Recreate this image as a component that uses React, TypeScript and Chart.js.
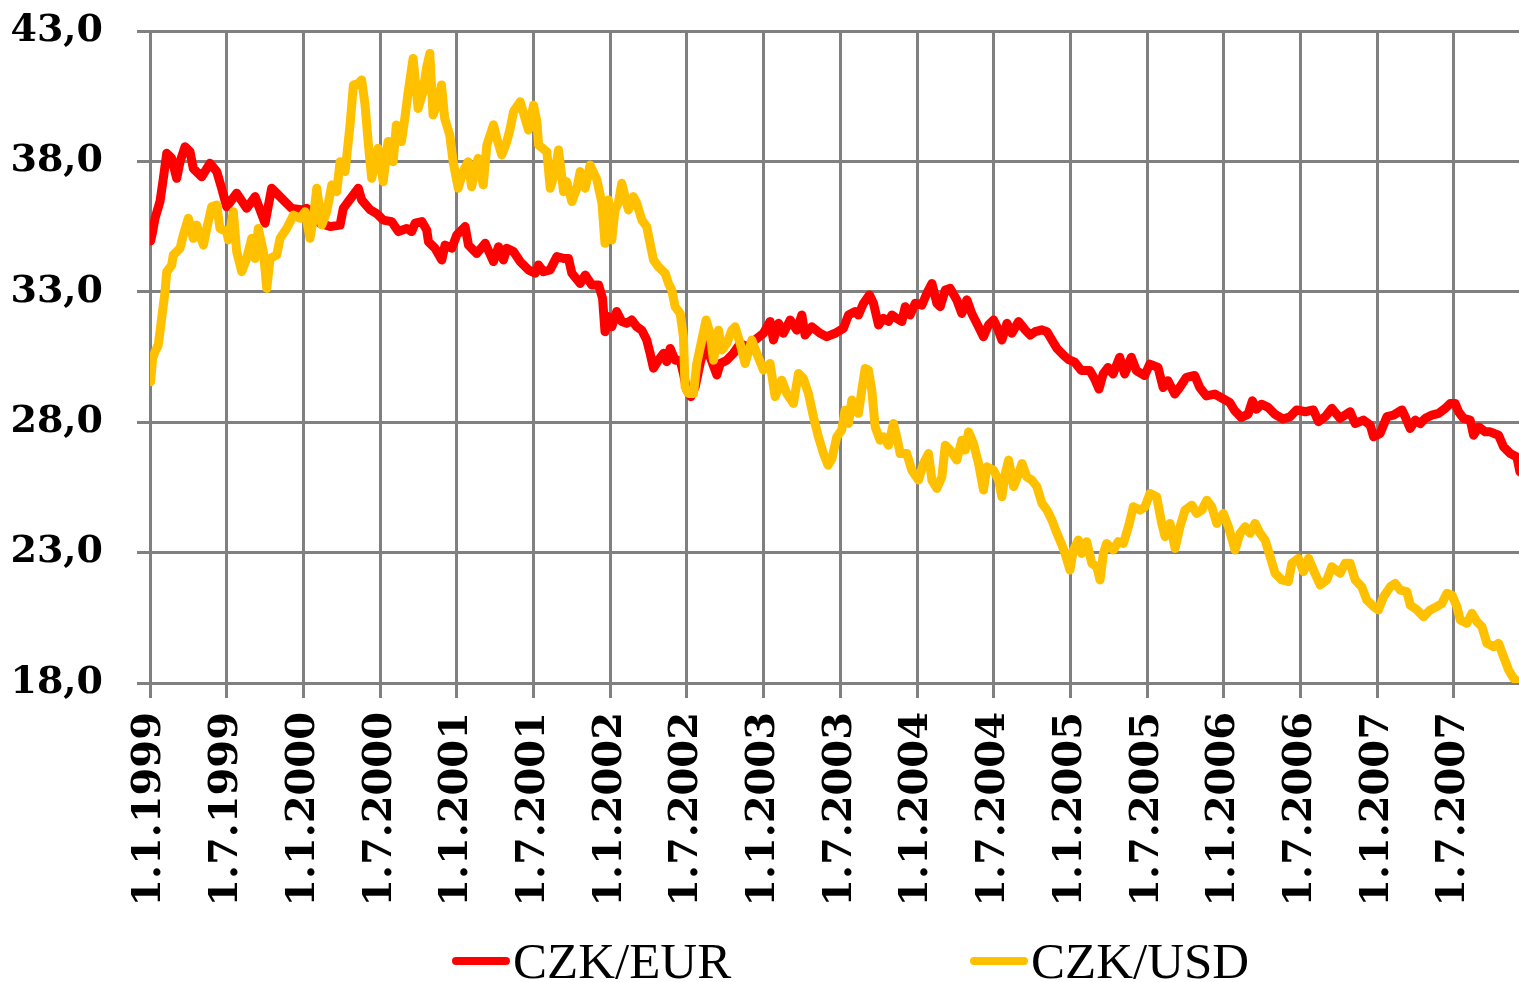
import React, { useEffect, useRef } from "react";
import { Chart, registerables } from "chart.js";

Chart.register(...registerables);

// ---- data ----
const tickLabels = [
  "1.1.1999", "1.7.1999", "1.1.2000", "1.7.2000", "1.1.2001", "1.7.2001",
  "1.1.2002", "1.7.2002", "1.1.2003", "1.7.2003", "1.1.2004", "1.7.2004",
  "1.1.2005", "1.7.2005", "1.1.2006", "1.7.2006", "1.1.2007", "1.7.2007",
];
const yMin = 18;
const yMax = 43;
const yStep = 5;
const xStart = 1999;
const xEnd = 2007.924;

const seriesNames = ["CZK/EUR", "CZK/USD"];

const eurTime = [
  1999.004, 1999.017, 1999.033, 1999.065, 1999.087, 1999.109, 1999.141, 1999.174, 1999.196, 1999.228,
  1999.261, 1999.282, 1999.337, 1999.391, 1999.435, 1999.467, 1999.5, 1999.565, 1999.63, 1999.685,
  1999.75, 1999.793, 1999.869, 1999.924, 2000.0, 2000.021, 2000.108, 2000.174, 2000.239, 2000.26,
  2000.293, 2000.358, 2000.38, 2000.434, 2000.478, 2000.521, 2000.576, 2000.619, 2000.673, 2000.706,
  2000.728, 2000.772, 2000.804, 2000.815, 2000.858, 2000.902, 2000.923, 2000.967, 2001.0, 2001.054,
  2001.076, 2001.13, 2001.185, 2001.239, 2001.272, 2001.304, 2001.326, 2001.37, 2001.413, 2001.467,
  2001.511, 2001.532, 2001.565, 2001.608, 2001.652, 2001.695, 2001.728, 2001.75, 2001.804, 2001.837,
  2001.88, 2001.924, 2001.95, 2001.966, 2001.988, 2002.01, 2002.042, 2002.075, 2002.108, 2002.14,
  2002.173, 2002.206, 2002.238, 2002.26, 2002.282, 2002.314, 2002.347, 2002.369, 2002.391, 2002.423,
  2002.456, 2002.477, 2002.499, 2002.525, 2002.554, 2002.586, 2002.619, 2002.651, 2002.695, 2002.717,
  2002.76, 2002.803, 2002.847, 2002.89, 2002.944, 2002.999, 2003.042, 2003.064, 2003.097, 2003.129,
  2003.173, 2003.216, 2003.249, 2003.27, 2003.314, 2003.368, 2003.412, 2003.466, 2003.52, 2003.553,
  2003.596, 2003.618, 2003.651, 2003.69, 2003.716, 2003.749, 2003.781, 2003.814, 2003.836, 2003.868,
  2003.901, 2003.923, 2003.955, 2003.988, 2004.032, 2004.064, 2004.097, 2004.129, 2004.151, 2004.184,
  2004.216, 2004.259, 2004.292, 2004.325, 2004.357, 2004.401, 2004.433, 2004.466, 2004.499, 2004.521,
  2004.553, 2004.586, 2004.618, 2004.662, 2004.705, 2004.738, 2004.77, 2004.814, 2004.847, 2004.879,
  2004.912, 2004.955, 2004.988, 2005.028, 2005.071, 2005.126, 2005.158, 2005.186, 2005.213, 2005.245,
  2005.278, 2005.321, 2005.354, 2005.397, 2005.43, 2005.484, 2005.517, 2005.571, 2005.604, 2005.636,
  2005.68, 2005.712, 2005.756, 2005.81, 2005.843, 2005.886, 2005.94, 2005.995, 2006.038, 2006.071,
  2006.114, 2006.158, 2006.186, 2006.212, 2006.245, 2006.289, 2006.332, 2006.386, 2006.432, 2006.475,
  2006.53, 2006.584, 2006.617, 2006.661, 2006.704, 2006.758, 2006.823, 2006.856, 2006.91, 2006.954,
  2006.976, 2007.019, 2007.063, 2007.106, 2007.161, 2007.182, 2007.215, 2007.248, 2007.28, 2007.313,
  2007.356, 2007.4, 2007.443, 2007.476, 2007.508, 2007.53, 2007.562, 2007.606, 2007.628, 2007.661,
  2007.704, 2007.736, 2007.791, 2007.823, 2007.867, 2007.91, 2007.93,
];
const eurRate = [
  34.95, 35.3, 35.82, 36.46, 37.35, 38.31, 38.12, 37.35, 37.99, 38.56,
  38.37, 37.73, 37.41, 37.93, 37.61, 36.97, 36.26, 36.78, 36.2, 36.65,
  35.63, 36.97, 36.52, 36.2, 36.14, 36.2, 35.63, 35.5, 35.56, 36.2,
  36.46, 36.97, 36.52, 36.15, 36.0, 35.75, 35.69, 35.31, 35.43, 35.31,
  35.63, 35.69, 35.37, 34.92, 34.67, 34.22, 34.79, 34.67, 35.18, 35.5,
  34.79, 34.47, 34.86, 34.16, 34.73, 34.22, 34.67, 34.54, 34.16, 33.84,
  33.71, 34.03, 33.77, 33.84, 34.35, 34.28, 34.28, 33.71, 33.32, 33.64,
  33.26, 33.26, 32.75, 31.47, 32.05, 31.66, 32.24, 31.86, 31.79, 31.92,
  31.66, 31.53, 31.15, 30.64, 30.07, 30.38, 30.64, 30.32, 30.83, 30.38,
  30.38, 29.87, 29.23, 28.98, 29.36, 30.25, 31.02, 30.51, 29.81, 30.25,
  30.38, 30.64, 31.02, 30.89, 31.15, 31.41, 31.86, 31.15, 31.79, 31.41,
  31.92, 31.53, 32.11, 31.34, 31.66, 31.41, 31.28, 31.41, 31.6, 32.11,
  32.24, 32.11, 32.56, 32.88, 32.56, 31.73, 31.98, 31.86, 32.11, 31.98,
  31.86, 32.43, 32.11, 32.56, 32.49, 32.94, 33.32, 32.56, 32.43, 33.07,
  33.13, 32.69, 32.17, 32.69, 32.17, 31.66, 31.28, 31.73, 31.92, 31.66,
  31.15, 31.79, 31.41, 31.86, 31.54, 31.34, 31.47, 31.54, 31.47, 31.15,
  30.83, 30.57, 30.4, 30.3, 29.98, 29.98, 29.66, 29.27, 29.85, 30.1,
  29.85, 30.49, 29.85, 30.49, 29.98, 29.79, 30.23, 30.1, 29.33, 29.59,
  29.08, 29.33, 29.72, 29.79, 29.33, 29.01, 29.08, 28.9, 28.76, 28.44,
  28.18, 28.31, 28.82, 28.5, 28.69, 28.57, 28.31, 28.12, 28.21, 28.47,
  28.4, 28.47, 28.02, 28.21, 28.53, 28.15, 28.4, 27.95, 28.08, 27.89,
  27.44, 27.57, 28.21, 28.27, 28.47, 28.21, 27.76, 28.08, 27.95, 28.15,
  28.27, 28.34, 28.53, 28.72, 28.72, 28.4, 28.15, 28.08, 27.5, 27.82,
  27.63, 27.63, 27.5, 27.06, 26.8, 26.67, 26.1,
];

const usdTime = [
  1999.004, 1999.017, 1999.033, 1999.054, 1999.076, 1999.098, 1999.109, 1999.141, 1999.152, 1999.196,
  1999.217, 1999.25, 1999.282, 1999.304, 1999.348, 1999.37, 1999.402, 1999.435, 1999.456, 1999.5,
  1999.511, 1999.543, 1999.565, 1999.598, 1999.63, 1999.663, 1999.685, 1999.706, 1999.739, 1999.761,
  1999.783, 1999.826, 1999.848, 1999.891, 1999.935, 1999.978, 2000.011, 2000.043, 2000.065, 2000.087,
  2000.12, 2000.152, 2000.185, 2000.217, 2000.239, 2000.272, 2000.304, 2000.326, 2000.358, 2000.38,
  2000.402, 2000.424, 2000.445, 2000.487, 2000.52, 2000.552, 2000.585, 2000.606, 2000.639, 2000.661,
  2000.683, 2000.715, 2000.748, 2000.78, 2000.802, 2000.824, 2000.845, 2000.878, 2000.9, 2000.921,
  2000.954, 2000.976, 2001.009, 2001.041, 2001.074, 2001.096, 2001.139, 2001.172, 2001.196, 2001.239,
  2001.261, 2001.293, 2001.326, 2001.348, 2001.37, 2001.413, 2001.445, 2001.467, 2001.5, 2001.522,
  2001.533, 2001.587, 2001.609, 2001.641, 2001.663, 2001.696, 2001.717, 2001.75, 2001.783, 2001.804,
  2001.837, 2001.869, 2001.913, 2001.946, 2001.966, 2001.988, 2002.01, 2002.031, 2002.053, 2002.075,
  2002.097, 2002.119, 2002.151, 2002.173, 2002.206, 2002.238, 2002.26, 2002.282, 2002.314, 2002.358,
  2002.38, 2002.401, 2002.423, 2002.456, 2002.477, 2002.488, 2002.51, 2002.543, 2002.564, 2002.597,
  2002.625, 2002.651, 2002.673, 2002.706, 2002.727, 2002.76, 2002.793, 2002.814, 2002.847, 2002.879,
  2002.923, 2002.955, 2002.999, 2003.042, 2003.075, 2003.118, 2003.151, 2003.194, 2003.227, 2003.259,
  2003.292, 2003.325, 2003.357, 2003.39, 2003.42, 2003.445, 2003.477, 2003.509, 2003.531, 2003.553,
  2003.575, 2003.596, 2003.618, 2003.64, 2003.662, 2003.683, 2003.705, 2003.727, 2003.759, 2003.781,
  2003.814, 2003.846, 2003.868, 2003.89, 2003.933, 2003.966, 2004.01, 2004.042, 2004.075, 2004.097,
  2004.129, 2004.162, 2004.184, 2004.216, 2004.259, 2004.292, 2004.314, 2004.336, 2004.368, 2004.401,
  2004.433, 2004.455, 2004.499, 2004.532, 2004.553, 2004.575, 2004.597, 2004.63, 2004.662, 2004.684,
  2004.716, 2004.749, 2004.781, 2004.814, 2004.847, 2004.879, 2004.912, 2004.94, 2004.965, 2004.997,
  2005.019, 2005.052, 2005.073, 2005.106, 2005.139, 2005.171, 2005.193, 2005.215, 2005.236, 2005.28,
  2005.312, 2005.345, 2005.378, 2005.41, 2005.454, 2005.486, 2005.519, 2005.562, 2005.595, 2005.617,
  2005.649, 2005.682, 2005.714, 2005.747, 2005.791, 2005.823, 2005.856, 2005.889, 2005.921, 2005.954,
  2005.997, 2006.03, 2006.073, 2006.106, 2006.139, 2006.171, 2006.204, 2006.236, 2006.269, 2006.302,
  2006.334, 2006.378, 2006.421, 2006.443, 2006.486, 2006.519, 2006.552, 2006.584, 2006.628, 2006.671,
  2006.704, 2006.758, 2006.791, 2006.823, 2006.856, 2006.899, 2006.932, 2006.976, 2007.008, 2007.041,
  2007.085, 2007.117, 2007.15, 2007.193, 2007.215, 2007.259, 2007.302, 2007.345, 2007.389, 2007.421,
  2007.454, 2007.487, 2007.519, 2007.541, 2007.584, 2007.617, 2007.65, 2007.682, 2007.715, 2007.758,
  2007.791, 2007.823, 2007.856, 2007.889, 2007.93,
];
const usdRate = [
  29.55, 30.45, 30.7, 30.96, 31.98, 33.0, 33.77, 34.02, 34.41, 34.67,
  35.18, 35.82, 35.05, 35.56, 34.79, 35.43, 36.26, 36.33, 35.43, 35.3,
  34.99, 36.07, 34.54, 33.77, 34.28, 35.05, 34.28, 35.43, 34.54, 33.13,
  34.28, 34.41, 35.05, 35.43, 35.94, 35.82, 36.07, 35.05, 35.82, 36.97,
  35.56, 36.07, 37.1, 36.84, 37.99, 37.61, 39.4, 40.93, 40.99, 41.12,
  40.16, 38.63, 37.35, 38.5, 37.22, 38.76, 37.99, 39.4, 38.76, 39.65,
  40.67, 41.95, 40.03, 40.67, 41.57, 42.14, 39.78, 40.29, 40.93, 39.65,
  39.01, 37.99, 36.97, 37.61, 37.99, 37.03, 38.12, 37.1, 38.63, 39.4,
  38.88, 38.25, 38.76, 39.27, 39.91, 40.29, 39.65, 39.2, 40.16, 39.52,
  38.63, 38.37, 36.97, 37.61, 38.44, 36.84, 37.22, 36.46, 36.97, 37.61,
  36.97, 37.86, 37.3, 36.4, 34.86, 36.52, 34.99, 36.14, 36.4, 37.16,
  36.65, 36.14, 36.65, 36.4, 35.75, 35.5, 34.86, 34.22, 33.96, 33.71,
  33.32, 33.07, 32.43, 32.17, 31.28, 29.36, 29.1, 29.1, 30.25, 31.15,
  31.92, 31.41, 30.38, 31.53, 30.77, 31.02, 31.53, 31.66, 31.02, 30.25,
  31.15, 30.64, 30.0, 30.25, 28.98, 29.61, 29.1, 28.72, 29.87, 29.68,
  29.1, 28.2, 27.44, 26.8, 26.35, 26.6, 27.44, 27.7, 28.46, 27.95,
  28.85, 28.46, 28.34, 29.23, 30.06, 30.0, 29.23, 27.82, 27.31, 27.44,
  27.12, 27.95, 27.44, 26.8, 26.8, 26.16, 25.78, 26.42, 26.8, 25.78,
  25.46, 25.9, 27.12, 26.93, 26.55, 27.31, 26.93, 27.63, 27.18, 26.42,
  25.4, 26.29, 26.16, 25.78, 25.14, 26.03, 26.55, 25.53, 26.03, 26.42,
  25.9, 25.78, 25.53, 24.89, 24.63, 24.25, 23.74, 23.35, 22.97, 22.33,
  23.1, 23.48, 22.97, 23.42, 22.59, 22.46, 21.95, 22.97, 23.35, 23.1,
  23.42, 23.35, 23.99, 24.76, 24.63, 24.76, 25.27, 25.14, 24.12, 23.61,
  24.12, 23.16, 23.99, 24.63, 24.82, 24.5, 24.63, 25.01, 24.76, 24.12,
  24.5, 23.99, 23.1, 23.74, 23.99, 23.74, 24.12, 23.74, 23.48, 22.84,
  22.21, 21.95, 21.89, 22.59, 22.78, 22.27, 22.78, 22.33, 21.76, 21.95,
  22.46, 22.21, 22.59, 22.59, 21.95, 21.69, 21.18, 20.93, 20.8, 21.31,
  21.69, 21.82, 21.56, 21.5, 20.99, 20.8, 20.54, 20.8, 20.93, 21.05,
  21.44, 21.37, 20.93, 20.42, 20.29, 20.67, 20.35, 20.16, 19.52, 19.39,
  19.52, 19.01, 18.5, 18.18, 17.99,
];

// ---- styles ----
const EUR_COLOR = "#FF0000";
const USD_COLOR = "#FFC000";
const GRID_COLOR = "#808080";
const W = 1519;
const H = 920;
const PLOT_LEFT = 150;
const PLOT_TOP = 31;
const PLOT_BOTTOM = 683;

function labelToValue(label: string): number {
  const [, m, y] = label.split(".").map(Number);
  return y + (m - 1) / 12;
}

export default function App() {
  const canvasRef = useRef<HTMLCanvasElement | null>(null);

  useEffect(() => {
    if (!canvasRef.current) return;
    const toPoints = (t: number[], v: number[]) => t.map((x, i) => ({ x, y: v[i] }));
    const chart = new Chart(canvasRef.current, {
      type: "line",
      data: {
        datasets: [
          {
            label: seriesNames[0],
            data: toPoints(eurTime, eurRate),
            borderColor: EUR_COLOR,
            backgroundColor: EUR_COLOR,
            borderWidth: 9,
            pointRadius: 0,
            tension: 0,
            borderJoinStyle: "round",
            borderCapStyle: "round",
            order: 1,
          },
          {
            label: seriesNames[1],
            data: toPoints(usdTime, usdRate),
            borderColor: USD_COLOR,
            backgroundColor: USD_COLOR,
            borderWidth: 9,
            pointRadius: 0,
            tension: 0,
            borderJoinStyle: "round",
            borderCapStyle: "round",
            order: 0,
          },
        ],
      },
      options: {
        animation: false,
        responsive: false,
        devicePixelRatio: 1,
        layout: { padding: { top: PLOT_TOP, left: 0, right: 0, bottom: 0 } },
        plugins: {
          legend: { display: false },
          tooltip: { enabled: false },
        },
        scales: {
          x: {
            type: "linear",
            min: xStart,
            max: xEnd,
            afterBuildTicks: (scale: any) => {
              scale.ticks = tickLabels.map((l) => ({ value: labelToValue(l) }));
            },
            afterFit: (scale: any) => {
              scale.height = H - PLOT_BOTTOM;
              scale.paddingLeft = 0;
              scale.paddingRight = 0;
            },
            ticks: {
              autoSkip: false,
              minRotation: 90,
              maxRotation: 90,
              padding: 14,
              color: "#000",
              font: { family: "'DejaVu Serif', serif", size: 40, weight: "bold" },
              callback: (_v: any, i: number) => tickLabels[i],
            },
            grid: {
              color: GRID_COLOR,
              lineWidth: 3,
              tickLength: 15,
              drawTicks: true,
            },
            border: { display: true, color: GRID_COLOR, width: 3 },
          },
          y: {
            type: "linear",
            min: yMin,
            max: yMax,
            afterFit: (scale: any) => {
              scale.width = PLOT_LEFT;
              scale.paddingTop = 0;
              scale.paddingBottom = 0;
            },
            ticks: {
              stepSize: yStep,
              padding: 34,
              color: "#000",
              font: { family: "'DejaVu Serif', serif", size: 38, weight: "bold" },
              callback: (v: any) => Number(v).toFixed(1).replace(".", ","),
            },
            grid: {
              color: GRID_COLOR,
              lineWidth: 3,
              tickLength: 13,
              drawTicks: true,
            },
            border: { display: true, color: GRID_COLOR, width: 3 },
          },
        },
      } as any,
    });
    return () => chart.destroy();
  }, []);

  const legendText: React.CSSProperties = {
    position: "absolute",
    top: 936,
    fontFamily: "'Liberation Serif', 'Times New Roman', serif",
    fontSize: 51,
    lineHeight: 1,
    color: "#000",
    whiteSpace: "nowrap",
  };
  const legendLine: React.CSSProperties = {
    position: "absolute",
    top: 957,
    width: 58,
    height: 8,
    borderRadius: 4,
  };

  return (
    <div style={{ position: "absolute", left: 0, top: 0, width: W, height: 982, background: "#fff", overflow: "hidden" }}>
      <canvas ref={canvasRef} width={W} height={H} style={{ display: "block", width: W, height: H }} />
      <div style={{ ...legendLine, left: 452, background: EUR_COLOR }} />
      <div style={{ ...legendText, left: 513 }}>{seriesNames[0]}</div>
      <div style={{ ...legendLine, left: 970, background: USD_COLOR }} />
      <div style={{ ...legendText, left: 1031 }}>{seriesNames[1]}</div>
    </div>
  );
}
